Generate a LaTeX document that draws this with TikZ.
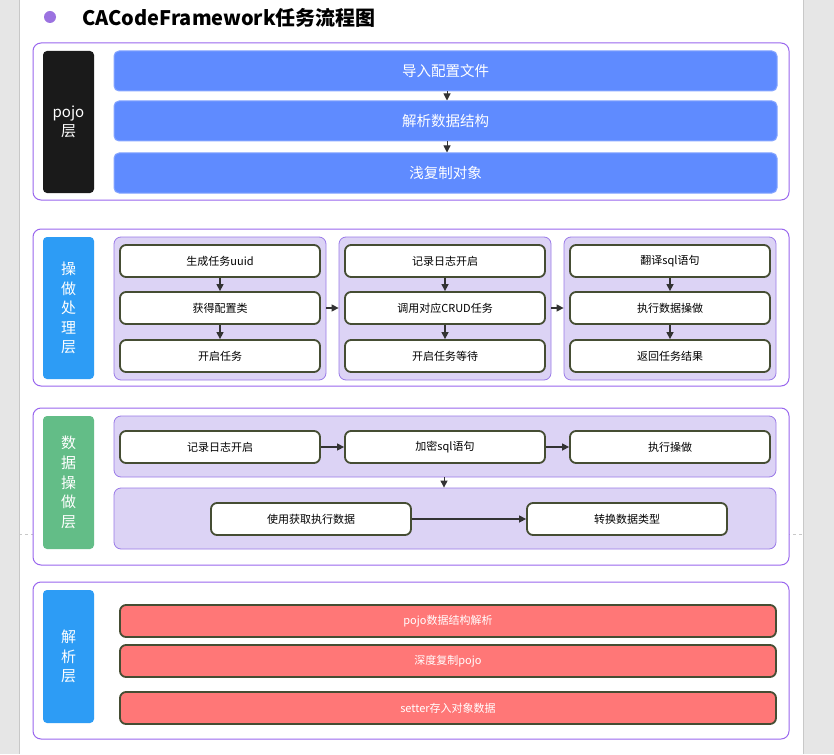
\documentclass[tikz,border=0pt]{standalone}
\usepackage{fontspec}
\setmainfont{Noto Sans CJK SC}
\usetikzlibrary{arrows.meta}
\definecolor{pagegray}{HTML}{E6E6E6}
\definecolor{edgegray}{HTML}{C8C8C8}
\definecolor{purp}{HTML}{9966EE}
\definecolor{lav}{HTML}{DCD3F5}
\definecolor{lavb}{HTML}{9A7AE8}
\definecolor{blu}{HTML}{5F8BFF}
\definecolor{blub}{HTML}{86A6FF}
\definecolor{lblue}{HTML}{2D9CF5}
\definecolor{lgreen}{HTML}{63BD87}
\definecolor{lblack}{HTML}{1A1A1A}
\definecolor{oliv}{HTML}{454D33}
\definecolor{salmon}{HTML}{FF7777}
\definecolor{arrc}{HTML}{333333}
\definecolor{circ}{HTML}{9B72E0}
\begin{document}
\begin{tikzpicture}[x=1pt,y=-1pt,
  outer/.style={draw=purp, fill=white, rounded corners=8pt, line width=1pt, minimum width=756pt, minimum height=157pt, inner sep=0pt},
  lab/.style={rounded corners=4pt, minimum width=51pt, text=white, font=\fontsize{15}{19.6}\selectfont, align=center, inner sep=0pt},
  bluebox/.style={fill=blu, draw=blub, line width=1pt, rounded corners=5pt, minimum width=663pt, minimum height=40pt, text=white, font=\fontsize{14.5}{16}\selectfont, inner sep=0pt},
  grp/.style={fill=lav, draw=lavb, line width=0.8pt, rounded corners=7pt, inner sep=0pt},
  ib/.style={fill=white, draw=oliv, line width=1.8pt, rounded corners=6pt, minimum width=200pt, minimum height=32pt, font=\fontsize{11}{13}\selectfont, inner sep=0pt},
  rb/.style={ib, fill=salmon, text=white, minimum width=656pt},
  arr/.style={-{Triangle[length=7pt,width=7pt]}, draw=arrc, line width=1.4pt}]
\useasboundingbox (0,0) rectangle (834,754);
% page
\fill[pagegray] (0,0) rectangle (834,754);
\fill[white] (19,0) rectangle (803,754);
\draw[edgegray, line width=0.8pt] (19,0) -- (19,754);
\draw[edgegray, line width=0.8pt] (803,0) -- (803,754);
\draw[edgegray, dashed, line width=0.8pt] (19,534) -- (803,534);
% title
\node[circle, fill=circ, minimum size=12pt, inner sep=0pt] (dot) at (50,17) {};
\node[anchor=base west, font=\fontsize{20}{24}\selectfont\bfseries, text=black, inner sep=0pt] (title) at (82,26) {CACodeFramework任务流程图};

% ===== section 1 =====
\node[outer] (s1) at (411,121.5) {};
\node[lab, fill=lblack, minimum height=142pt] (l1) at (68.5,122) {pojo\\层};
\node[bluebox] (p1) at (445.5,71) {导入配置文件};
\node[bluebox] (p2) at (445.5,121) {解析数据结构};
\node[bluebox] (p3) at (445.5,173) {浅复制对象};
\draw[arr, line width=1pt] (p1.south -| 447,0) -- (p2.north -| 447,0);
\draw[arr, line width=1pt] (p2.south -| 447,0) -- (p3.north -| 447,0);

% ===== section 2 =====
\node[outer] (s2) at (411,307.5) {};
\node[lab, fill=lblue, minimum height=142pt] (l2) at (68.5,308) {操\\做\\处\\理\\层};
\node[grp, minimum width=212pt, minimum height=143pt] (g1) at (220,308.5) {};
\node[grp, minimum width=212pt, minimum height=143pt] (g2) at (445,308.5) {};
\node[grp, minimum width=212pt, minimum height=143pt] (g3) at (670,308.5) {};
\node[ib] (a1) at (220,261) {生成任务uuid};
\node[ib] (a2) at (220,308) {获得配置类};
\node[ib] (a3) at (220,356) {开启任务};
\node[ib] (b1) at (445,261) {记录日志开启};
\node[ib] (b2) at (445,308) {调用对应CRUD任务};
\node[ib] (b3) at (445,356) {开启任务等待};
\node[ib] (c1) at (670,261) {翻译sql语句};
\node[ib] (c2) at (670,308) {执行数据操做};
\node[ib] (c3) at (670,356) {返回任务结果};
\draw[arr] (a1) -- (a2);
\draw[arr] (a2) -- (a3);
\draw[arr] (b1) -- (b2);
\draw[arr] (b2) -- (b3);
\draw[arr] (c1) -- (c2);
\draw[arr] (c2) -- (c3);
\draw[arr] (g1.east |- a2) -- (g2.west |- b2);
\draw[arr] (g2.east |- b2) -- (g3.west |- c2);

% ===== section 3 =====
\node[outer] (s3) at (411,486.5) {};
\node[lab, fill=lgreen, minimum height=133pt] (l3) at (68.5,482.5) {数\\据\\操\\做\\层};
\node[grp, minimum width=662pt, minimum height=61pt] (ga) at (445,446.5) {};
\node[grp, minimum width=662pt, minimum height=61pt] (gb) at (445,518.5) {};
\node[ib] (d1) at (220,447) {记录日志开启};
\node[ib] (d2) at (445,447) {加密sql语句};
\node[ib] (d3) at (670,447) {执行操做};
\node[ib] (e1) at (311,519) {使用获取执行数据};
\node[ib] (e2) at (627,519) {转换数据类型};
\draw[arr] (d1) -- (d2);
\draw[arr] (d2) -- (d3);
\draw[arr] (e1) -- (e2);
\draw[arr, line width=1pt] (ga.south -| 444,0) -- (gb.north -| 444,0);

% ===== section 4 =====
\node[outer] (s4) at (411,660.5) {};
\node[lab, fill=lblue, minimum height=133pt] (l4) at (68.5,656.5) {解\\析\\层};
\node[rb] (r1) at (448,621) {pojo数据结构解析};
\node[rb] (r2) at (448,661) {深度复制pojo};
\node[rb] (r3) at (448,708) {setter存入对象数据};
\end{tikzpicture}
\end{document}
